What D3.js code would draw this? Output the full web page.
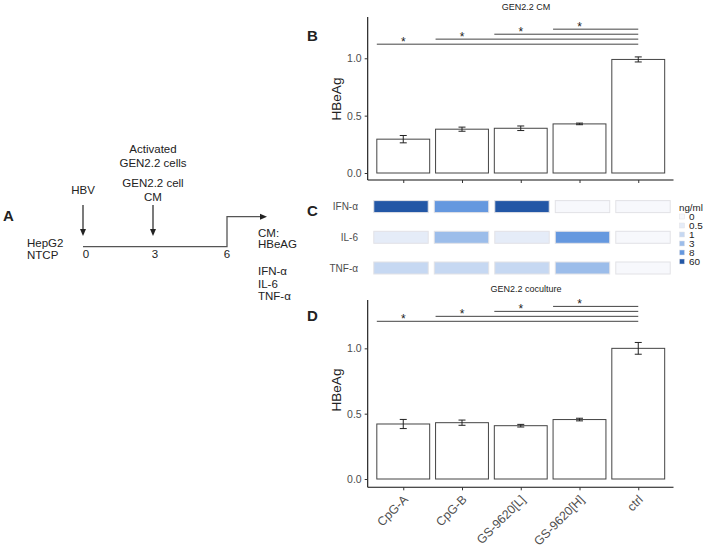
<!DOCTYPE html>
<html><head><meta charset="utf-8">
<script src="https://cdn.jsdelivr.net/npm/d3@7"></script>
<style>body{margin:0;background:#fff}svg{display:block;font-family:"Liberation Sans",Arial,sans-serif}</style>
</head><body><svg id="c" width="708" height="550"></svg>
<script>
// ---- data ----
const categories = ["CpG-A","CpG-B","GS-9620[L]","GS-9620[H]","ctrl"];
const cmMean = [0.295, 0.382, 0.39, 0.428, 0.99];
const cmErr  = [0.032, 0.018, 0.02, 0.007, 0.022];
const coMean = [0.421, 0.431, 0.408, 0.455, 1.0];
const coErr  = [0.035, 0.02, 0.01, 0.01, 0.045];
const sigFrom = ["CpG-A","CpG-B","GS-9620[L]","GS-9620[H]"];
const sigTo = "ctrl";
const sigLevelsB = [1.123, 1.167, 1.21, 1.254];
const sigLevelsD = [1.207, 1.245, 1.283, 1.321];
const sigLabel = "*";
const yTicks = [0, 0.5, 1.0];
const cytokines = ["IFN-α","IL-6","TNF-α"];
const ifnVals = ["60","8","60","0","0"];
const il6Vals = ["0.5","3","0.5","8","0"];
const tnfVals = ["1","1","1","3","0"];
const legendLevels = ["0","0.5","1","3","8","60"];
const legendColors = ["#f7f8fc","#e5ecf8","#c6d8f2","#9cbdea","#6598df","#2357a6"];
const timeTicks = [0, 3, 6];

const svg = d3.select("#c");
const txt = "#222", grey = "#4d4d4d";

// ---- Panel A ----
const A = svg.append("g");
const tx = d3.scaleLinear().domain([0,6]).range([83, 227]);
A.append("text").attr("x",3).attr("y",221).attr("font-size",15).attr("font-weight","bold").attr("fill",txt).text("A");
const tl = (x,y,t,anchor="start") => A.append("text").attr("x",x).attr("y",y).attr("font-size",11.5).attr("fill",txt).attr("text-anchor",anchor).text(t);
tl(27,246.5,"HepG2"); tl(27,259,"NTCP");
A.append("path").attr("fill","none").attr("stroke","#555").attr("stroke-width",1.3)
  .attr("d",`M${tx(0)},246.7H${tx(6)}V216.7H263`);
A.append("path").attr("d","M267,216.7 l-7,-3 v6 z").attr("fill","#222");
timeTicks.forEach(t=>tl(tx(t)+(t===0?3:0),258,String(t),"middle"));
[0,3].forEach(t=>{
  const x = tx(t)+(t===3?-2:0);
  A.append("line").attr("x1",x).attr("x2",x).attr("y1",205).attr("y2",230).attr("stroke","#222").attr("stroke-width",1.2);
  A.append("path").attr("d",`M${x},236 l-3,-7 h6 z`).attr("fill","#222");
});
tl(tx(0),193.5,"HBV","middle");
tl(tx(3)-2,152.5,"Activated","middle");
tl(tx(3)-2,166.5,"GEN2.2 cells","middle");
tl(tx(3)-2,187,"GEN2.2 cell","middle");
tl(tx(3)-2,201,"CM","middle");
tl(258,237,"CM:"); tl(258,248,"HBeAG");
tl(258,275,"IFN-α"); tl(258,287.5,"IL-6"); tl(258,300,"TNF-α");

// ---- bar panels ----
const xB = d3.scalePoint().domain(categories).range([368, 673.5]).padding(0.6);
function barPanel(opt){
  const g = svg.append("g");
  const y = d3.scaleLinear().domain(opt.dom).range([opt.bottom, opt.top]);
  const bw = xB.step()*0.9;
  g.append("text").attr("x",526).attr("y",opt.titleY).attr("text-anchor","middle").attr("font-size",9).attr("fill",txt).text(opt.title);
  g.append("text").attr("x",307).attr("y",opt.letterY).attr("font-size",15).attr("font-weight","bold").attr("fill",txt).text(opt.letter);
  g.selectAll("rect.bar").data(categories).join("rect")
    .attr("x",d=>xB(d)-bw/2).attr("width",bw)
    .attr("y",(d,i)=>y(opt.mean[i])).attr("height",(d,i)=>y(0)-y(opt.mean[i]))
    .attr("fill","#fff").attr("stroke","#444").attr("stroke-width",1);
  categories.forEach((c,i)=>{
    const x=xB(c), lo=y(opt.mean[i]-opt.err[i]), hi=y(opt.mean[i]+opt.err[i]);
    g.append("path").attr("fill","none").attr("stroke","#222").attr("stroke-width",1)
      .attr("d",`M${x-3.5},${hi}H${x+3.5}M${x},${hi}V${lo}M${x-3.5},${lo}H${x+3.5}`);
  });
  sigFrom.forEach((c,i)=>{
    const yy=y(opt.sig[i]);
    g.append("line").attr("x1",xB(c)-bw/2).attr("x2",xB(sigTo)).attr("y1",yy).attr("y2",yy).attr("stroke","#444").attr("stroke-width",1);
    g.append("text").attr("x",xB(c)).attr("y",yy+2).attr("text-anchor","middle").attr("font-size",12).attr("fill",txt).text(sigLabel);
  });
  const ya = g.append("g").attr("transform","translate(367.7,0)").call(d3.axisLeft(y).tickValues(yTicks).tickFormat(d3.format(".1f")).tickSize(3).tickPadding(3));
  ya.select(".domain").attr("d",`M0,${opt.top}V${opt.bottom}`).attr("stroke","#111").attr("stroke-width",1.1);
  ya.selectAll(".tick line").attr("stroke","#333");
  ya.selectAll(".tick text").attr("fill",grey).attr("font-size",10.5).attr("font-family","Liberation Sans, Arial, sans-serif");
  const xa = g.append("g").attr("transform",`translate(0,${opt.bottom})`).call(d3.axisBottom(xB).tickSize(3).tickFormat(opt.labels?null:""));
  xa.select(".domain").attr("d","M367.7,0H673.5").attr("stroke","#111").attr("stroke-width",1.1);
  xa.selectAll(".tick line").attr("stroke","#333");
  if(opt.labels){
    xa.selectAll(".tick text").attr("fill",grey).attr("font-size",12.3).attr("font-family","Liberation Sans, Arial, sans-serif")
      .attr("text-anchor","end").attr("y",0).attr("dy",0).attr("transform","translate(5,13) rotate(-45)");
  } else xa.selectAll(".tick text").remove();
  g.append("text").attr("transform",`translate(341,${opt.labelY}) rotate(-90)`).attr("text-anchor","middle").attr("font-size",13.5).attr("fill",txt).text("HBeAg");
}
barPanel({dom:[-0.061,1.36],bottom:180,top:17,mean:cmMean,err:cmErr,sig:sigLevelsB,title:"GEN2.2 CM",titleY:10,letter:"B",letterY:41,labelY:99,labels:false});
barPanel({dom:[-0.0635,1.37],bottom:487.3,top:300,mean:coMean,err:coErr,sig:sigLevelsD,title:"GEN2.2 coculture",titleY:292,letter:"D",letterY:321,labelY:390,labels:true});

// ---- Panel C heatmap ----
const C = svg.append("g");
const xC = d3.scalePoint().domain(categories).range([370.75, 673.25]).padding(0.5);
const yC = d3.scalePoint().domain(cytokines).range([206.6, 268]);
const col = d3.scaleOrdinal().domain(legendLevels).range(legendColors);
const rows = [ifnVals, il6Vals, tnfVals];
C.append("text").attr("x",307).attr("y",216).attr("font-size",15).attr("font-weight","bold").attr("fill",txt).text("C");
const tw = xC.step()*0.9, th = 12;
cytokines.forEach((r,ri)=>{
  C.append("text").attr("x",358).attr("y",yC(r)+3.5).attr("text-anchor","end").attr("font-size",10).attr("fill",grey).text(r);
  categories.forEach((c,ci)=>{
    C.append("rect").attr("x",xC(c)-tw/2).attr("y",yC(r)-th/2).attr("width",tw).attr("height",th)
      .attr("fill",col(rows[ri][ci])).attr("stroke","#e2e2e6").attr("stroke-width",1);
  });
});
const leg = C.append("g");
leg.append("text").attr("transform","translate(679,211) scale(1.15,1)").attr("font-size",8.5).attr("fill",txt).text("ng/ml");
legendLevels.forEach((l,i)=>{
  const yy = 216.5 + i*9;
  leg.append("rect").attr("x",679.5).attr("y",yy-2.5).attr("width",5).attr("height",5).attr("fill",col(l)).attr("stroke","#e2e2e6").attr("stroke-width",0.5);
  leg.append("text").attr("transform",`translate(689,${yy+3}) scale(1.2,1)`).attr("font-size",8.3).attr("fill",txt).text(l);
});
</script></body></html>
